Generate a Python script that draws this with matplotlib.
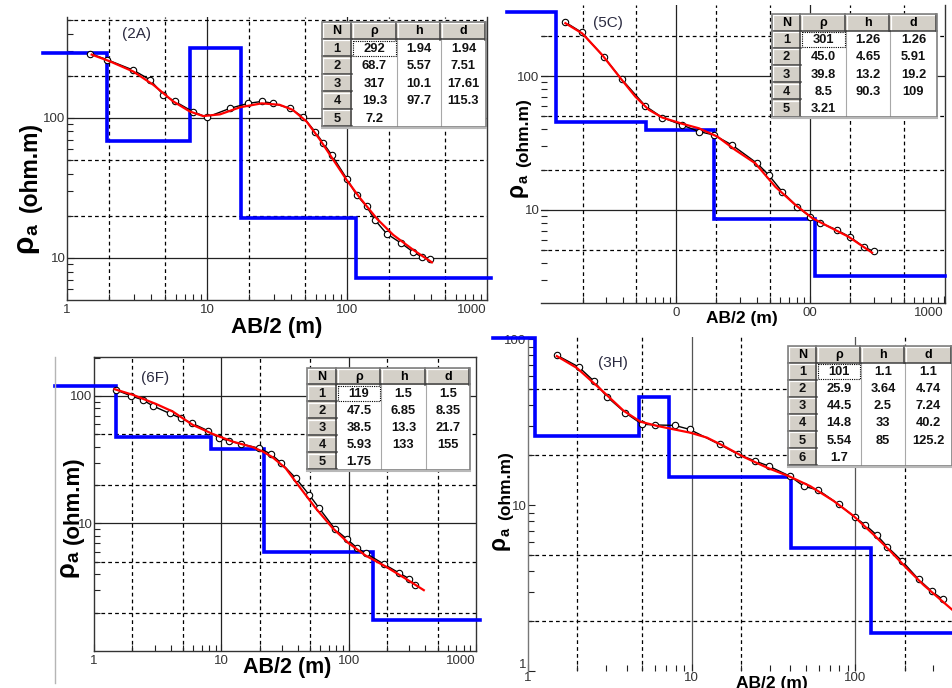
import numpy as np
import matplotlib.pyplot as plt
from matplotlib.patches import Rectangle
from matplotlib.ticker import FixedLocator, LogLocator, NullFormatter

plt.rcParams['font.family'] = ['Liberation Sans', 'DejaVu Sans']

# ---------------- data ----------------
# (2A)
ab2_2A = [1.46, 1.92, 2.98, 3.92, 4.88, 5.9, 7.9, 9.95, 14.6, 19.7, 24.6, 29.8, 39.2,
          48.8, 59.1, 67.8, 77.6, 99.5, 117, 138, 158, 192, 245, 298, 341, 392]
rho_2A = [288, 261, 219, 187, 146, 131, 111, 101, 117, 127, 131, 127, 117,
          101, 79.8, 65.9, 54.5, 36.9, 28.2, 23.3, 18.7, 14.9, 12.7, 11.0, 10.2, 9.9]
fit_x_2A = [1.5, 2.03, 2.98, 4.14, 5.74, 7.55, 9.4, 12.4, 17.2, 24.6, 33, 41, 51.5,
            64, 80, 99.5, 123, 164, 214, 298, 404]
fit_y_2A = [283, 253, 214, 172, 131, 111, 103, 106, 119, 127, 124, 114, 94,
            70, 50, 36, 27, 19, 14.6, 11.4, 9.3]
layer_rho_2A = [292, 68.7, 317, 19.3, 7.2]
layer_d_2A = [1.94, 7.51, 17.61, 115.3]
table_2A = [['1', '292', '1.94', '1.94'], ['2', '68.7', '5.57', '7.51'],
            ['3', '317', '10.1', '17.61'], ['4', '19.3', '97.7', '115.3'], ['5', '7.2', '', '']]

# (5C)
ab2_5C = [1.47, 1.97, 2.88, 3.91, 5.9, 7.87, 11.1, 14.8, 19.1, 26.2, 40.2, 49.2, 61.8,
          80, 100, 119, 158, 200, 251, 299]
rho_5C = [254, 212, 139, 95, 59.7, 49, 43, 38.5, 36.3, 30.5, 22.3, 18.2, 13.7,
          10.6, 8.9, 8.0, 7.1, 6.25, 5.3, 4.9]
fit_x_5C = [1.49, 1.99, 2.8, 3.95, 4.97, 6.25, 7.87, 11.1, 14.8, 20.3, 27.7, 39, 55,
            77.7, 103.6, 138, 194, 290]
fit_y_5C = [248, 208, 144, 93, 70, 56, 49, 44, 40.7, 35.3, 28, 22.3, 14.9,
            10.9, 8.7, 7.5, 6.3, 4.8]
layer_rho_5C = [301, 45.0, 39.8, 8.5, 3.21]
layer_d_5C = [1.26, 5.91, 19.2, 109]
table_5C = [['1', '301', '1.26', '1.26'], ['2', '45.0', '4.65', '5.91'],
            ['3', '39.8', '13.2', '19.2'], ['4', '8.5', '90.3', '109'], ['5', '3.21', '', '']]

# (6F)
ab2_6F = [1.5, 1.96, 2.42, 2.9, 3.92, 4.83, 5.9, 7.8, 9.6, 11.5, 14.3, 19.8, 24.5,
          29.3, 38.5, 48.9, 58.6, 78.3, 97.7, 117, 136, 189, 248, 297, 334]
rho_6F = [111, 100, 93, 83.5, 73, 66.8, 61, 53.5, 46.6, 44.4, 42, 38.9, 35.1,
          30, 22.6, 16.8, 13.2, 9.0, 7.5, 6.4, 5.85, 4.8, 4.1, 3.7, 3.3]
fit_x_6F = [1.45, 2.02, 3.07, 4.16, 5.96, 8.53, 12.3, 17.6, 21.1, 25.2, 32, 40.9,
            55, 74.8, 100, 136, 195, 279, 389]
fit_y_6F = [113, 102, 86.5, 75.4, 59.3, 50.4, 43.8, 39.7, 36.7, 33.1, 27.1, 19.5,
            13.2, 9.2, 7.0, 5.6, 4.6, 3.7, 3.0]
layer_rho_6F = [119, 47.5, 38.5, 5.93, 1.75]
layer_d_6F = [1.5, 8.35, 21.7, 155]
table_6F = [['1', '119', '1.5', '1.5'], ['2', '47.5', '6.85', '8.35'],
            ['3', '38.5', '13.3', '21.7'], ['4', '5.93', '133', '155'], ['5', '1.75', '', '']]

# (3H)
ab2_3H = [1.5, 2.04, 2.52, 3.04, 3.93, 4.97, 5.94, 7.88, 9.7, 14.8, 19.3, 24.5, 29.5,
          40.0, 48.3, 59.5, 79, 99, 115, 135, 157, 193, 244, 292, 342]
rho_3H = [80, 68, 56, 44.9, 36, 30.7, 30.4, 30.2, 28.6, 23.2, 20.2, 18.4, 17.2,
          14.9, 13.0, 12.3, 10.1, 8.46, 7.6, 6.6, 5.6, 4.6, 3.56, 3.03, 2.7]
fit_x_3H = [1.5, 1.99, 2.77, 3.84, 4.86, 6.15, 7.77, 9.8, 12.4, 15.7, 20.8, 28.9, 40,
            53, 73.6, 97.5, 128, 163, 209, 261, 420]
fit_y_3H = [79, 67, 50, 37, 31.8, 30, 28.6, 27.3, 25.5, 22.7, 19.5, 16.8, 14.8,
            13, 10.6, 8.6, 6.7, 5.3, 4.1, 3.3, 2.2]
layer_rho_3H = [101, 25.9, 44.5, 14.8, 5.54, 1.7]
layer_d_3H = [1.1, 4.74, 7.24, 40.2, 125.2]
table_3H = [['1', '101', '1.1', '1.1'], ['2', '25.9', '3.64', '4.74'], ['3', '44.5', '2.5', '7.24'],
            ['4', '14.8', '33', '40.2'], ['5', '5.54', '85', '125.2'], ['6', '1.7', '', '']]

header = ['N', 'ρ', 'h', 'd']

# ---------------- figure ----------------
W, H = 953, 688
fig = plt.figure(figsize=(W / 100, H / 100), dpi=100)


def box(l, t, r, b):
    return [l / W, 1 - b / H, (r - l) / W, (b - t) / H]


def panel(rect, xlim, ylim, xticks, xlabels, yticks, ylabels, xdash, ydash,
          xsolid, ysolid, spines, gridcol='#222222'):
    ax = fig.add_axes(box(*rect))
    ax.set_xscale('log')
    ax.set_yscale('log')
    ax.set_xlim(xlim)
    ax.set_ylim(ylim)
    for v in xsolid:
        ax.axvline(v, color=gridcol, lw=0.9, zorder=1)
    for v in ysolid:
        ax.axhline(v, color=gridcol, lw=0.9, zorder=1)
    for v in xdash:
        ax.axvline(v, color='black', lw=0.9, ls=(0, (3, 2.5)), zorder=1)
    for v in ydash:
        ax.axhline(v, color='black', lw=0.9, ls=(0, (3, 2.5)), zorder=1)
    ax.xaxis.set_major_locator(FixedLocator(xticks))
    ax.set_xticklabels(xlabels)
    ax.yaxis.set_major_locator(FixedLocator(yticks))
    ax.set_yticklabels(ylabels)
    for a in (ax.xaxis, ax.yaxis):
        a.set_minor_locator(LogLocator(base=10, subs=np.arange(2, 10)))
        a.set_minor_formatter(NullFormatter())
    ax.tick_params(which='both', direction='in', labelsize=9.5, labelcolor='#333333',
                   width=0.8, color='#222222')
    ax.tick_params(which='major', length=5)
    ax.tick_params(which='minor', length=4)
    ax.tick_params(axis='x', pad=3)
    ax.tick_params(axis='y', pad=1)
    for lbl in ax.get_xticklabels():
        if lbl.get_text() == '1000':
            lbl.set_ha('right')
    for name, sp in ax.spines.items():
        sp.set_visible(name in spines)
        sp.set_color('#333333')
        sp.set_linewidth(1.0)
    ax.patch.set_alpha(0)
    return ax


def model_xy(rho, depth, x0, x1):
    xs, ys = [x0], [rho[0]]
    for r0, r1, d in zip(rho[:-1], rho[1:], depth):
        xs += [d, d]
        ys += [r0, r1]
    xs.append(x1)
    ys.append(rho[-1])
    return xs, ys


def curves(ax, ab2, rho, fx, fy, lrho, ld, x0, x1):
    mx, my = model_xy(lrho, ld, x0, x1)
    ax.plot(mx, my, color='#0000ff', lw=2.6, zorder=3, clip_on=False,
            solid_joinstyle='miter')
    ax.plot(ab2, rho, color='black', lw=1.0, marker='o', ms=4.6, mfc='white',
            mec='black', mew=0.8, zorder=4)
    ax.plot(fx, fy, color='#ff0000', lw=1.6, zorder=5)


std_x = [1, 10, 100, 1000]
std_xl = ['1', '10', '100', '1000']

# (2A)
ax1 = panel((67, 17, 487, 300), (1, 1000), (5.01, 525), std_x, std_xl,
            [10, 100], ['10', '100'], [2, 5, 20, 50, 200, 500], [20, 50, 200, 500],
            [10, 100], [10, 100], ['left', 'bottom', 'right'])
curves(ax1, ab2_2A, rho_2A, fit_x_2A, fit_y_2A, layer_rho_2A, layer_d_2A, 0.67, 1060)

# (5C)
ax2 = panel((541, 5, 945, 303), (0.98, 1016), (2.02, 339), [10, 100, 1000],
            ['0', '00', '1000'], [10, 100], ['10', '100'],
            [2, 5, 20, 50, 200, 500], [5, 20, 50, 200],
            [10, 100], [10, 100], ['bottom', 'right'])
curves(ax2, ab2_5C, rho_5C, fit_x_5C, fit_y_5C, layer_rho_5C, layer_d_5C, 0.55, 1016)

# (6F)
ax3 = panel((94, 357, 476, 651), (1, 1000), (1, 202), std_x, std_xl,
            [10, 100], ['10', '100'], [2, 5, 20, 50, 200, 500], [2, 5, 20, 50],
            [10, 100], [10, 100], ['left', 'bottom', 'right', 'top'])
curves(ax3, ab2_6F, rho_6F, fit_x_6F, fit_y_6F, layer_rho_6F, layer_d_6F, 0.49, 1070)

# (3H)
ax4 = panel((528, 337, 1019, 671), (1, 1000), (1, 103), [1, 10, 100],
            ['1', '10', '100'], [1, 10, 100], ['1', '10', '100'],
            [2, 5, 20, 200], [2, 5, 20, 50],
            [10, 100], [], ['left'], gridcol='#555555')
ax4.spines['left'].set_color('#777777')
ax4.tick_params(axis='x', pad=1)
for lbl in ax4.get_yticklabels():
    if lbl.get_text() == '1':
        lbl.set_va('bottom')
curves(ax4, ab2_3H, rho_3H, fit_x_3H, fit_y_3H, layer_rho_3H, layer_d_3H, 0.61, 2000)

# ---------------- overlay (tables and texts), pixel coordinates ----------------
ov = fig.add_axes([0, 0, 1, 1], zorder=10)
ov.set_xlim(0, W)
ov.set_ylim(H, 0)
ov.set_axis_off()
ov.patch.set_alpha(0)

GRAY = '#d4d0c8'


def draw_table(left, top, widths, rowh, rows):
    edges = np.concatenate([[left], left + np.cumsum(widths)])
    nrow = len(rows) + 1
    tw = edges[-1] - left
    th = rowh * nrow
    ov.add_patch(Rectangle((left, top), tw, th, fc='white', ec='none', zorder=1))
    # column separators in the data area
    for x in edges[2:-1]:
        ov.plot([x, x], [top + rowh, top + th], color='#a8a8a8', lw=0.8, zorder=2)
    # gray button cells (header row + N column)
    cells = [(edges[j], top, widths[j]) for j in range(len(widths))]
    cells += [(left, top + rowh * (i + 1), widths[0]) for i in range(len(rows))]
    for (x, y, w) in cells:
        ov.add_patch(Rectangle((x, y), w, rowh, fc=GRAY, ec='none', zorder=2))
        ov.plot([x + 0.5, x + w - 1], [y + 0.8, y + 0.8], color='white', lw=0.9, zorder=3)
        ov.plot([x + 0.8, x + 0.8], [y + 0.5, y + rowh - 1], color='white', lw=0.9, zorder=3)
        ov.plot([x, x + w], [y + rowh - 0.6, y + rowh - 0.6], color='#404040', lw=1.1, zorder=3)
        ov.plot([x + w - 0.6, x + w - 0.6], [y, y + rowh], color='#404040', lw=1.1, zorder=3)
    for j, h in enumerate(header):
        ov.text((edges[j] + edges[j + 1]) / 2, top + rowh / 2 + 0.5, h, ha='center',
                va='center', fontsize=9, fontweight='bold', zorder=4)
    for i, row in enumerate(rows):
        yc = top + rowh * (i + 1.5) + 0.5
        for j, s in enumerate(row):
            ov.text((edges[j] + edges[j + 1]) / 2, yc, s, ha='center', va='center',
                    fontsize=9.3, fontweight='bold', color='#111111', zorder=4)
    # focus rectangle on first value
    ov.add_patch(Rectangle((edges[1] + 1, top + rowh + 1), widths[1] - 2, rowh - 2,
                           fc='none', ec='black', lw=0.8, ls=(0, (1, 1)), zorder=4))
    ov.add_patch(Rectangle((left, top), tw, th, fc='none', ec='#808080', lw=1.2, zorder=5))
    ov.plot([left, left + tw], [top + th + 1, top + th + 1], color='#b8b8b8', lw=1.5, zorder=5)


draw_table(322, 22, [30, 45, 44, 45], 17.5, table_2A)
draw_table(772, 14, [29, 45, 44, 47], 17.2, table_5C)
draw_table(307, 368, [30, 44, 45, 44], 17.0, table_6F)
draw_table(788, 346, [29, 44, 44, 47], 17.1, table_3H)

# panel names
for (x, y, s) in [(137, 34, '(2A)'), (608, 23, '(5C)'), (155, 378, '(6F)'), (613, 363, '(3H)')]:
    ov.text(x, y, s, ha='center', va='center', fontsize=11, color='#2a2a40')


# axis titles
def rho_label(xb, y_rho, y_ohm, size, rscale):
    rpx = size * rscale * 100 / 72
    ov.text(xb - 5, y_rho, 'ρ', rotation=90, rotation_mode='anchor', ha='left',
            va='baseline', fontsize=size * rscale, fontweight='bold')
    ov.text(xb, y_rho - 0.6 * rpx, 'a', rotation=90, rotation_mode='anchor', ha='left',
            va='baseline', fontsize=size * 0.85, fontweight='bold')
    ov.text(xb, y_ohm, '(ohm.m)', rotation=90, rotation_mode='anchor', ha='left',
            va='baseline', fontsize=size, fontweight='bold')


rho_label(37, 253, 212, 16.5, 1.3)
rho_label(528, 197, 167, 12.5, 1.3)
rho_label(79, 577, 544, 16, 1.15)
rho_label(510, 550, 520, 12.5, 1.3)

for (x, y, s) in [(277, 333, 16), (742, 323, 12.5), (287, 673, 15.5), (772, 688, 12.5)]:
    ov.text(x, y, 'AB/2 (m)', ha='center', va='baseline', fontsize=s, fontweight='bold')

# stray frame line left of (6F)
ov.plot([55, 55], [357, 683], color='#b5b5b5', lw=1.0)

fig.savefig('out.png', dpi=100)
